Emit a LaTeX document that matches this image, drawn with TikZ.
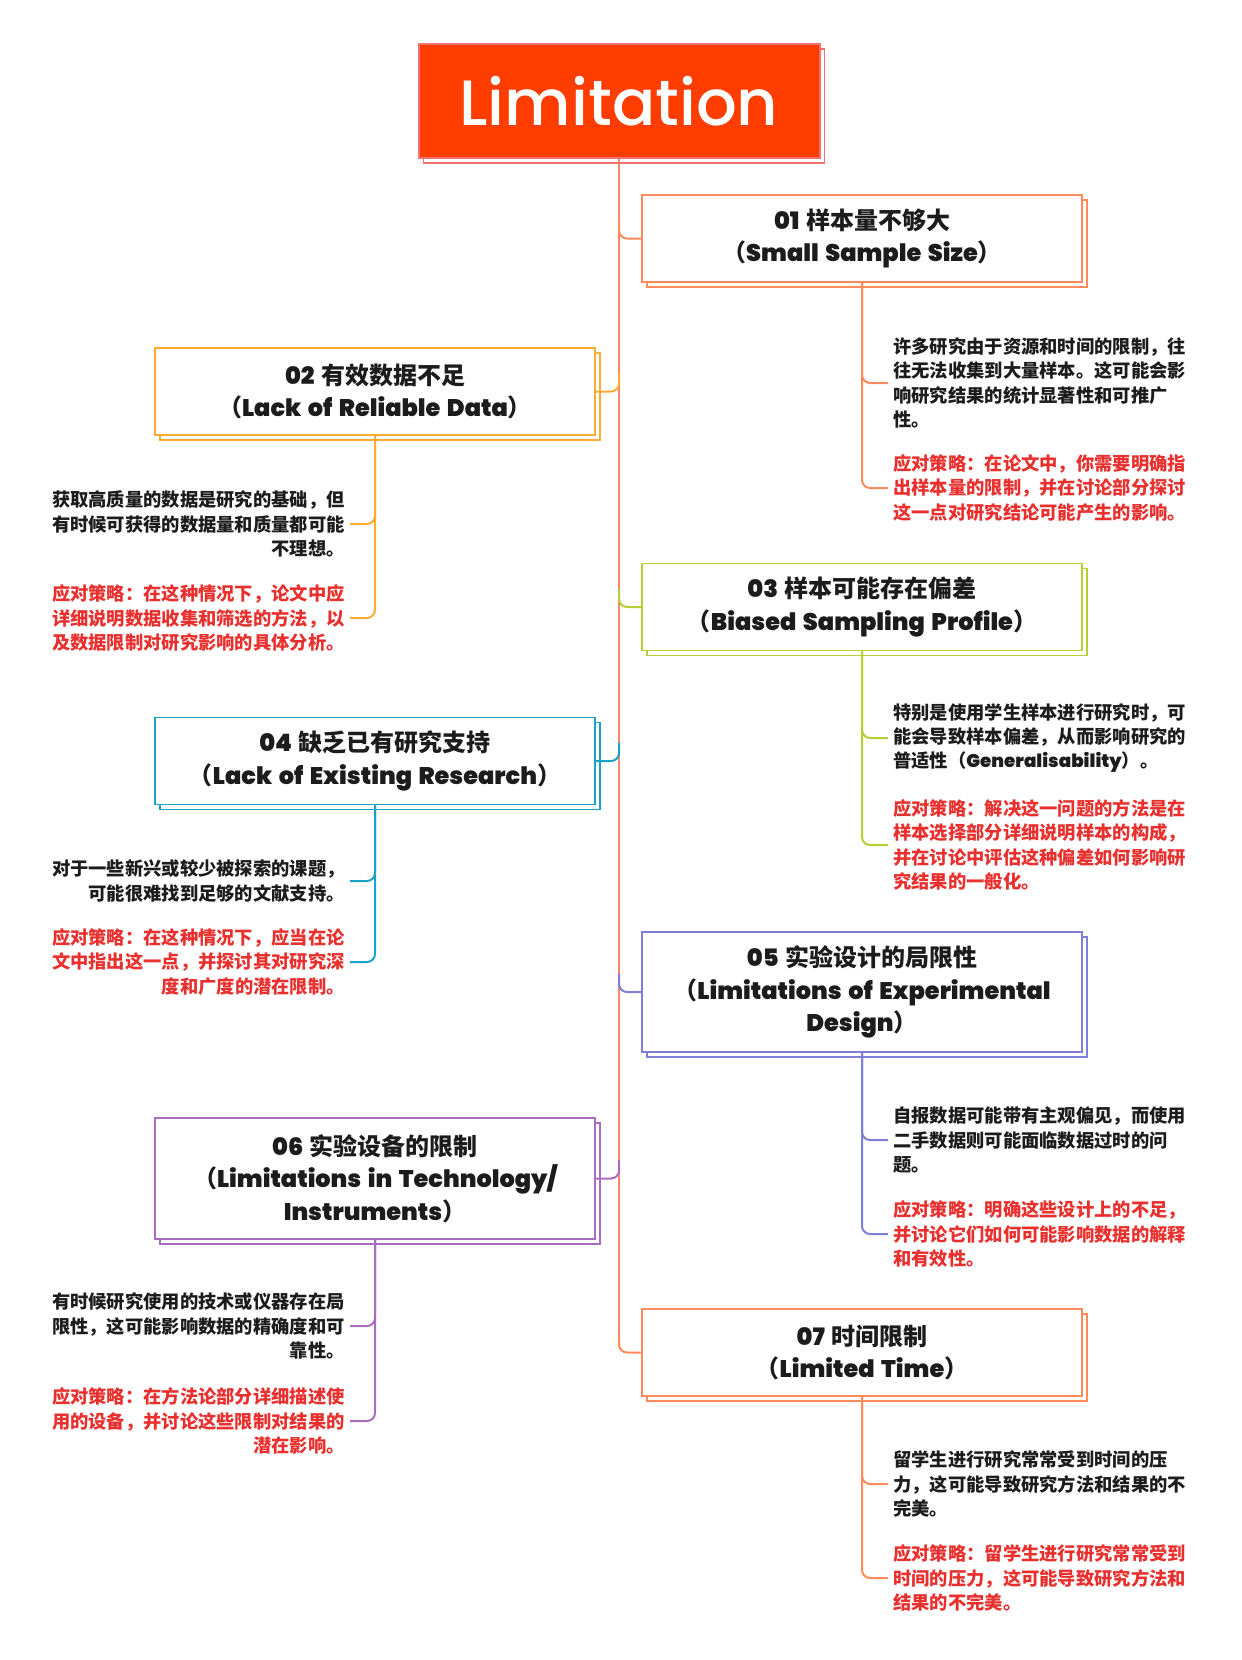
\documentclass[tikz,border=0pt]{standalone}
\usepackage{fontspec}
\newfontfamily\cjk{Noto Sans CJK SC}
\IfFontExistsTF{Poppins SemiBold}{\newfontfamily\latf{Poppins SemiBold}[WordSpace=1.6]}{\newfontfamily\latf{Poppins}[UprightFont=*,BoldFont=*,WordSpace=1.6]}
\IfFontExistsTF{Poppins Medium}{\newfontfamily\titf{Poppins Medium}}{\newfontfamily\titf{Poppins}}
\newcommand\lat[1]{{\latf #1}}
\definecolor{titfill}{HTML}{FF3D00}
\definecolor{titdraw}{HTML}{F27272}
\definecolor{trunkc}{HTML}{F3866C}
\definecolor{cA}{HTML}{FF8A5B}
\definecolor{cB}{HTML}{FFAA33}
\definecolor{cC}{HTML}{B7CF33}
\definecolor{cD}{HTML}{1BA3C7}
\definecolor{cE}{HTML}{7D80D6}
\definecolor{cF}{HTML}{A86DC0}
\definecolor{tblack}{HTML}{1C1C1C}
\definecolor{tred}{HTML}{E8312E}
\newcommand\bxfont{\cjk\bfseries\fontsize{24}{32.5}\selectfont}
\newcommand\txfont{\cjk\bfseries\fontsize{18.3}{24.4}\selectfont}
\begin{document}
\begin{tikzpicture}[x=1pt,y=-1pt,
  bx/.style={draw=#1, fill=white, line width=1.8pt, minimum width=440pt, inner sep=0pt, align=center, font=\bxfont, text=tblack},
  shd/.style={draw=#1, fill=white, line width=1.8pt, minimum width=440pt, inner sep=0pt},
  txr/.style={font=\txfont, text=#1, inner sep=0pt, inner xsep=5pt, anchor=west, align=left},
  txl/.style={font=\txfont, text=#1, inner sep=0pt, inner xsep=5pt, anchor=east, align=right},
  ln/.style={draw=#1, line width=2pt, rounded corners=8pt}]
\useasboundingbox (0,0) rectangle (1242,1660);
% title
\node[shd=titdraw, minimum width=401pt, minimum height=114pt] at (624,106) {};
\node[fill=titfill, draw=titdraw, line width=2pt, minimum width=401pt, minimum height=114pt, text=white, font=\titf\fontsize{64}{64}\selectfont] (title) at (619,101) {Limitation};
% boxes (shadows first)
\node[shd=cA, minimum height=87pt] at (867,243.5) {};
\node[bx=cA, minimum height=87pt] (b01) at (862,238.5) {\lat{01\ }样本量不够大\\（\lat{Small Sample Size}）};
\node[shd=cB, minimum height=87pt] at (380,396.5) {};
\node[bx=cB, minimum height=87pt] (b02) at (375,391.5) {\lat{02\ }有效数据不足\\（\lat{Lack of Reliable Data}）};
\node[shd=cC, minimum height=87pt] at (867,612) {};
\node[bx=cC, minimum height=87pt] (b03) at (862,607) {\lat{03\ }样本可能存在偏差\\（\lat{Biased Sampling Profile}）};
\node[shd=cD, minimum height=87pt] at (380,766) {};
\node[bx=cD, minimum height=87pt] (b04) at (375,761) {\lat{04\ }缺乏已有研究支持\\（\lat{Lack of Existing Research}）};
\node[shd=cE, minimum height=120pt] at (867,997) {};
\node[bx=cE, minimum height=120pt] (b05) at (862,992) {\lat{05\ }实验设计的局限性\\（\lat{Limitations of Experimental}\\\lat{Design}）};
\node[shd=cF, minimum height=121pt] at (380,1183.5) {};
\node[bx=cF, minimum height=121pt] (b06) at (375,1178.5) {\lat{06\ }实验设备的限制\\（\lat{Limitations in Technology/}\\\lat{Instruments}）};
\node[shd=cA, minimum height=87pt] at (867,1357.5) {};
\node[bx=cA, minimum height=87pt] (b07) at (862,1352.5) {\lat{07\ }时间限制\\（\lat{Limited Time}）};
% texts
\node[txr=tblack] (t01a) at (888,383) {许多研究由于资源和时间的限制，往\\往无法收集到大量样本。这可能会影\\响研究结果的统计显著性和可推广\\性。};
\node[txr=tred] (t01b) at (888,488) {应对策略：在论文中，你需要明确指\\出样本量的限制，并在讨论部分探讨\\这一点对研究结论可能产生的影响。};
\node[txl=tblack] (t02a) at (350,524) {获取高质量的数据是研究的基础，但\\有时候可获得的数据量和质量都可能\\不理想。};
\node[txl=tred] (t02b) at (350,618) {应对策略：在这种情况下，论文中应\\详细说明数据收集和筛选的方法，以\\及数据限制对研究影响的具体分析。};
\node[txr=tblack] (t03a) at (888,738) {特别是使用学生样本进行研究时，可\\能会导致样本偏差，从而影响研究的\\普适性（\lat{Generalisability}）。};
\node[txr=tred] (t03b) at (888,845) {应对策略：解决这一问题的方法是在\\样本选择部分详细说明样本的构成，\\并在讨论中评估这种偏差如何影响研\\究结果的一般化。};
\node[txl=tblack] (t04a) at (350,881) {对于一些新兴或较少被探索的课题，\\可能很难找到足够的文献支持。};
\node[txl=tred] (t04b) at (350,962) {应对策略：在这种情况下，应当在论\\文中指出这一点，并探讨其对研究深\\度和广度的潜在限制。};
\node[txr=tblack] (t05a) at (888,1140) {自报数据可能带有主观偏见，而使用\\二手数据则可能面临数据过时的问\\题。};
\node[txr=tred] (t05b) at (888,1234) {应对策略：明确这些设计上的不足，\\并讨论它们如何可能影响数据的解释\\和有效性。};
\node[txl=tblack] (t06a) at (350,1326) {有时候研究使用的技术或仪器存在局\\限性，这可能影响数据的精确度和可\\靠性。};
\node[txl=tred] (t06b) at (350,1421) {应对策略：在方法论部分详细描述使\\用的设备，并讨论这些限制对结果的\\潜在影响。};
\node[txr=tblack] (t07a) at (888,1484) {留学生进行研究常常受到时间的压\\力，这可能导致研究方法和结果的不\\完美。};
\node[txr=tred] (t07b) at (888,1578) {应对策略：留学生进行研究常常受到\\时间的压力，这可能导致研究方法和\\结果的不完美。};
% trunk junctions
\coordinate (j01) at (619,220);
\coordinate (j02) at (619,373);
\coordinate (j03) at (619,589);
\coordinate (j04) at (619,743);
\coordinate (j05) at (619,974);
\coordinate (j06) at (619,1160);
\coordinate (j07) at (619,1334);
\draw[trunkc, line width=2pt] (title.south) -- (j07);
\draw[ln=cA] (j01) |- (b01.west);
\draw[ln=cB] (j02) |- (b02.east);
\draw[ln=cC] (j03) |- (b03.west);
\draw[ln=cD] (j04) |- (b04.east);
\draw[ln=cE] (j05) |- (b05.west);
\draw[ln=cF] (j06) |- (b06.east);
\draw[ln=cA] (j07) |- (b07.west);
% child branches
\draw[ln=cA] (b01.south) |- (t01a.west);
\draw[ln=cA] (b01.south) |- (t01b.west);
\draw[ln=cB] (b02.south) |- (t02a.east);
\draw[ln=cB] (b02.south) |- (t02b.east);
\draw[ln=cC] (b03.south) |- (t03a.west);
\draw[ln=cC] (b03.south) |- (t03b.west);
\draw[ln=cD] (b04.south) |- (t04a.east);
\draw[ln=cD] (b04.south) |- (t04b.east);
\draw[ln=cE] (b05.south) |- (t05a.west);
\draw[ln=cE] (b05.south) |- (t05b.west);
\draw[ln=cF] (b06.south) |- (t06a.east);
\draw[ln=cF] (b06.south) |- (t06b.east);
\draw[ln=cA] (b07.south) |- (t07a.west);
\draw[ln=cA] (b07.south) |- (t07b.west);
\end{tikzpicture}
\end{document}
